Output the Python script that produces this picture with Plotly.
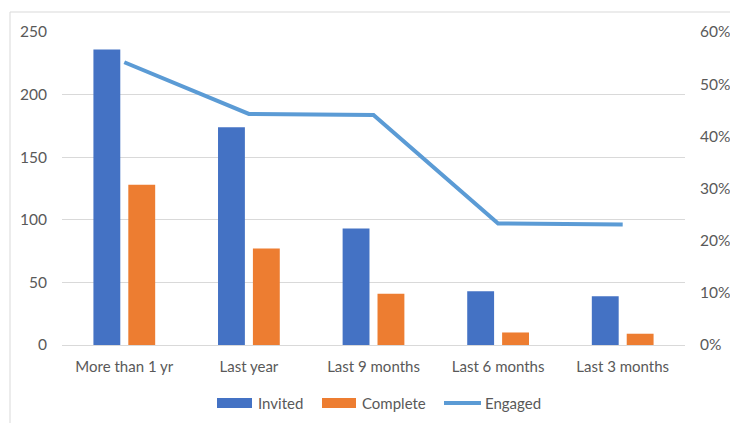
import plotly.graph_objects as go

categories = ["More than 1 yr", "Last year", "Last 9 months", "Last 6 months", "Last 3 months"]
invited = [236, 174, 93, 43, 39]
complete = [128, 77, 41, 10, 9]
engaged = [0.542, 0.443, 0.441, 0.233, 0.231]

left_ticks = [0, 50, 100, 150, 200, 250]
right_ticks = [0, 0.1, 0.2, 0.3, 0.4, 0.5, 0.6]

BLUE = "#4472C4"
ORANGE = "#ED7D31"
LINE = "#5B9BD5"
TXT = "#595959"
GRID = "#D9D9D9"
FONT = "Lato, Open Sans, sans-serif"

W, H = 730, 423
L, R, T, B = 62, 685, 32, 345

def px(x):
    return (x - L) / (R - L)

def py(y):
    return (B - y) / (B - T)

fig = go.Figure()
fig.add_trace(go.Bar(x=categories, y=invited, name="Invited", marker=dict(color=BLUE, line=dict(width=0))))
fig.add_trace(go.Bar(x=categories, y=complete, name="Complete", marker=dict(color=ORANGE, line=dict(width=0))))
fig.add_trace(go.Scatter(x=categories, y=engaged, name="Engaged", mode="lines", yaxis="y2",
                         line=dict(color=LINE, width=4)))

shapes = [
    dict(type="line", xref="paper", yref="paper", x0=px(10), x1=px(730), y0=py(12), y1=py(12),
         line=dict(color="#D9D9D9", width=1)),
    dict(type="line", xref="paper", yref="paper", x0=px(10), x1=px(10), y0=py(12), y1=py(423),
         line=dict(color="#D9D9D9", width=1)),
    dict(type="rect", xref="paper", yref="paper", x0=px(217), x1=px(252), y0=py(398), y1=py(408),
         fillcolor=BLUE, line=dict(width=0)),
    dict(type="rect", xref="paper", yref="paper", x0=px(322), x1=px(356), y0=py(398), y1=py(408),
         fillcolor=ORANGE, line=dict(width=0)),
    dict(type="line", xref="paper", yref="paper", x0=px(444), x1=px(481), y0=py(403), y1=py(403),
         line=dict(color=LINE, width=4)),
]

annotations = []
for label, xpos in [("Invited", 256), ("Complete", 360), ("Engaged", 483)]:
    annotations.append(dict(text=label, xref="paper", yref="paper", x=px(xpos), y=py(403),
                            xanchor="left", yanchor="middle", showarrow=False,
                            font=dict(family=FONT, size=15, color=TXT)))

fig.update_layout(
    width=W, height=H,
    margin=dict(l=L, r=W - R, t=T, b=H - B, pad=0, autoexpand=False),
    paper_bgcolor="white", plot_bgcolor="white",
    barmode="group", bargap=0.44, bargroupgap=0.23,
    showlegend=False,
    font=dict(family=FONT, size=15, color=TXT),
    xaxis=dict(showgrid=False, showline=True, linecolor=GRID, linewidth=1, ticks="", automargin=False,
               tickfont=dict(size=15, color=TXT), ticklabelstandoff=8),
    yaxis=dict(range=[0, 250], tickvals=left_ticks, showgrid=True, gridcolor=GRID, gridwidth=1,
               zeroline=False, showline=False, ticks="", ticklabelstandoff=14, automargin=False,
               tickfont=dict(size=15.5, color=TXT)),
    yaxis2=dict(range=[0, 0.6], tickvals=right_ticks, tickformat=".0%", overlaying="y", side="right",
                showgrid=False, zeroline=False, showline=False, ticks="", ticklabelstandoff=14,
                automargin=False, tickfont=dict(size=15.5, color=TXT)),
    shapes=shapes,
    annotations=annotations,
)

fig.write_html("out.html")
